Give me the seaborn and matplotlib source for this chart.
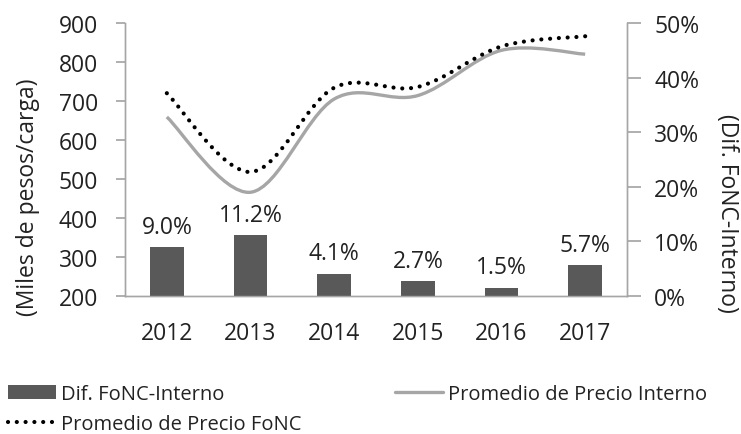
import numpy as np
import pandas as pd
import matplotlib
matplotlib.use("Agg")
import matplotlib.pyplot as plt
import seaborn as sns
from matplotlib.path import Path
from matplotlib.patches import PathPatch, Patch
from matplotlib.lines import Line2D

years = ["2012", "2013", "2014", "2015", "2016", "2017"]
dif_pct = [9.0, 11.2, 4.1, 2.7, 1.5, 5.7]
precio_interno = [659, 466, 705, 714, 830, 820]
precio_fonc = [720, 518, 734, 736, 840, 866]

sns.set_theme(style="white")
plt.rcParams['font.family'] = ['Open Sans', 'DejaVu Sans']

FS = 16.5
TXT = "#222222"
SPINE = "#a6a6a6"

fig = plt.figure(figsize=(7.41, 4.35), dpi=100)
ax = fig.add_axes([125/741, 1-297/435, (627-125)/741, (297-24)/435])
ax2 = ax.twinx()

df = pd.DataFrame({"year": years, "dif": dif_pct})
sns.barplot(data=df, x="year", y="dif", ax=ax2, color="#595959", width=0.4,
            saturation=1, edgecolor="none")
for i, v in enumerate(dif_pct):
    ax2.annotate(f"{v:.1f}%", (i, v), xytext=(0, 6), textcoords="offset points",
                 ha="center", va="bottom", fontsize=FS, color=TXT)

def smooth_path(xs, ys):
    pts = np.column_stack([xs, ys]).astype(float)
    n = len(pts)
    verts = [pts[0]]
    codes = [Path.MOVETO]
    for i in range(n - 1):
        p0 = pts[i - 1] if i > 0 else pts[i]
        p1 = pts[i]
        p2 = pts[i + 1]
        p3 = pts[i + 2] if i + 2 < n else pts[i + 1]
        c1 = p1 + (p2 - p0) / 6
        c2 = p2 - (p3 - p1) / 6
        verts += [c1, c2, p2]
        codes += [Path.CURVE4] * 3
    return Path(verts, codes)

DOT = (0, (0.01, 2.1))
xs = np.arange(len(years))
ax.add_patch(PathPatch(smooth_path(xs, precio_interno), facecolor="none",
                       edgecolor="#a6a6a6", lw=2.4, transform=ax.transData))
ax.add_patch(PathPatch(smooth_path(xs, precio_fonc), facecolor="none",
                       edgecolor="black", lw=3.0, linestyle=DOT,
                       capstyle="round", transform=ax.transData))

ax.set_ylim(200, 900)
ax.set_yticks(range(200, 901, 100))
ax2.set_ylim(0, 50)
ax2.set_yticks(range(0, 51, 10))
ax2.set_yticklabels([f"{t}%" for t in range(0, 51, 10)])
ax.set_xlim(-0.5, 5.5)
ax2.set_xlim(-0.5, 5.5)

ax.set_xticks(xs)
ax.set_xticklabels(years)
ax2.set_xlabel("")
ax.set_xticks(np.arange(-0.5, 6, 1), minor=True)

for a in (ax, ax2):
    a.spines['top'].set_visible(False)
    for s in ('left', 'right', 'bottom'):
        a.spines[s].set_color(SPINE)
        a.spines[s].set_linewidth(1.0)
    a.tick_params(axis='both', labelsize=FS, labelcolor=TXT)

ax.tick_params(axis='x', which='major', length=0, pad=18)
ax.tick_params(axis='x', which='minor', length=7, color=SPINE, direction='out')
ax.tick_params(axis='y', length=6.5, color=SPINE, direction='out', left=True, pad=13)
ax2.tick_params(axis='y', length=10, color=SPINE, direction='out', right=True, pad=9.5)
ax2.tick_params(axis='x', length=0)

ax.set_ylabel("(Miles de pesos/carga)", fontsize=FS, color=TXT)
ax.yaxis.set_label_coords((40-125)/502, (297-197)/273)
ax2.set_ylabel("(Dif. FoNC-Interno)", fontsize=FS, color=TXT, rotation=270,
               va="center")
ax2.yaxis.set_label_coords((727-125)/502, (297-213)/273)

handles = [Patch(facecolor="#595959", edgecolor="none"),
           Line2D([], [], color="black", lw=3.0, linestyle=DOT,
                  dash_capstyle="round"),
           Line2D([], [], color="#a6a6a6", lw=2.4)]
labels = ["Dif. FoNC-Interno", "Promedio de Precio FoNC", "Promedio de Precio Interno"]
fig.legend(handles, labels, loc="lower left", bbox_to_anchor=(0.0, -0.018),
           ncol=2, frameon=False, fontsize=14.5, columnspacing=4.6,
           handlelength=2.4, handletextpad=0.25, labelspacing=0.5,
           borderaxespad=0.0, labelcolor=TXT)

fig.savefig("out.png", dpi=100)
